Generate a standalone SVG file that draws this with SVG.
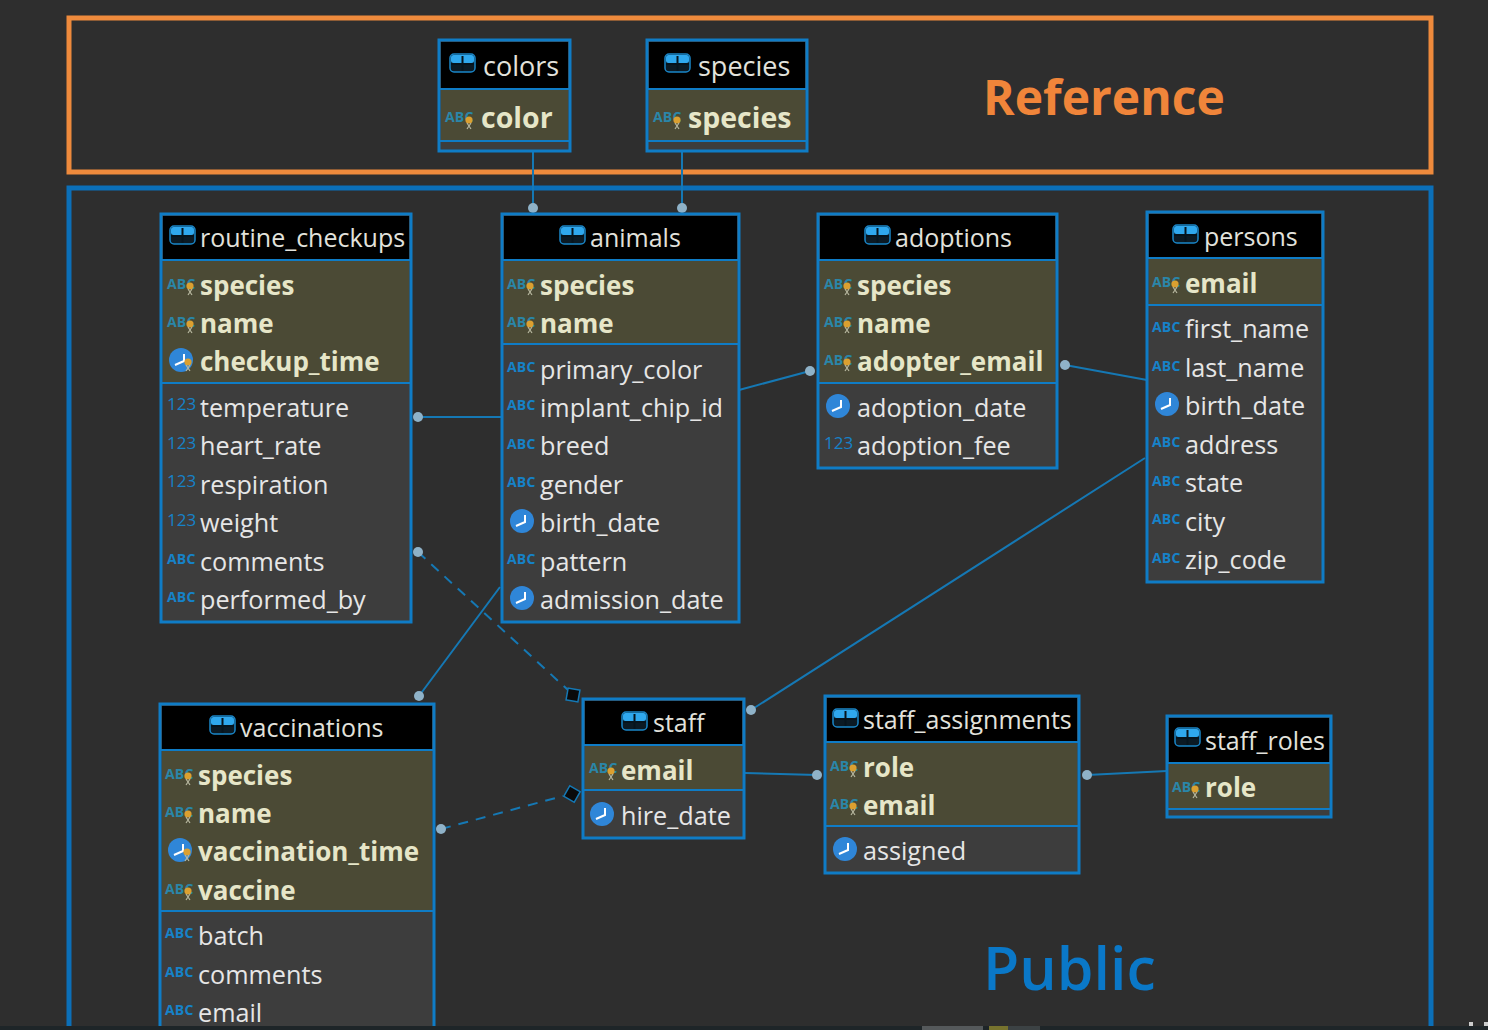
<svg xmlns="http://www.w3.org/2000/svg" width="1488" height="1030" viewBox="0 0 1488 1030">
<style>
text{font-family:"Open Sans","Noto Sans","Liberation Sans",sans-serif}
.f{fill:none;stroke-width:5}
.box{fill:#3d3d3d;stroke:#0f7cc6;stroke-width:3}
.hd{fill:#000}
.pk{fill:#4b4a35}
.ln{stroke:#0f7cc6;stroke-width:2;fill:none}
.t{fill:#e6e6e6;font-size:25.2px}
.c{fill:#e2e2dc;font-size:25px}
.b{fill:#e6e6c8;font-size:26px;font-weight:700;transform:translateY(1px)}
#colors .c,#species .c{font-size:27px}
#colors .b,#species .b{font-size:28.5px}
.ty{fill:#1682c8;font-size:14px;font-weight:700;letter-spacing:.2px}
.k{fill:#2a86a8}
.n{fill:#1682c8;font-size:17px}
.con{stroke:#1578b4;stroke-width:2;fill:none}
.d{stroke-dasharray:10 8}
.dot{fill:#8fb2c8}
.dm{fill:#0a0a0a;stroke:#1578b4;stroke-width:1.5}
</style>
<defs>
<g id="tb"><rect x="0" y="0" width="25" height="18" rx="4" fill="#0b1a24" stroke="#1a86c8" stroke-width="1.5"/><rect x="1" y="1" width="23" height="8" rx="2.5" fill="#2fa8ee"/><path d="M12.5 2v15M1 10h23" stroke="#06141d" stroke-width="2"/></g>
<g id="key"><circle cx="0" cy="0" r="3.6" fill="#dba030"/><path d="M-2 3l4 6M2 3l-4 6" stroke="#b8b8a0" stroke-width="1.2"/></g>
<g id="clk"><circle cx="0" cy="0" r="12" fill="#2f86d8"/><path d="M3 -6L3 1L-6 5" stroke="#fff" stroke-width="2" fill="none"/></g>
<g id="clkk"><use href="#clk"/><use href="#key" x="7" y="2"/></g>
</defs>
<rect width="1488" height="1030" fill="#2e2e2e"/>
<g id="frames">
<rect class="f" x="69" y="18" width="1362" height="154" stroke="#ee8a3c"/>
<rect class="f" x="69" y="188" width="1362" height="850" stroke="#0b6fb8"/>
<text x="983" y="115" font-size="48" font-weight="700" fill="#f0853a">Reference</text>
<text x="983" y="990" font-size="59" font-weight="600" fill="#0a78c8">Public</text>
</g>
<g id="connectors">
<path class="con" d="M533 152V208M682 152V208M418 417H502M739 390L810 371M1065 365L1147 380M751 710L1145 458M419 696L500 587M745 773L817 775M1087 775L1167 771"/>
<path class="con d" d="M418 552L568 690M441 829L563 796"/>
<circle class="dot" cx="533" cy="208" r="5"/><circle class="dot" cx="682" cy="208" r="5"/>
<circle class="dot" cx="418" cy="417" r="5"/><circle class="dot" cx="810" cy="371" r="5"/>
<circle class="dot" cx="1065" cy="365" r="5"/><circle class="dot" cx="751" cy="710" r="5"/>
<circle class="dot" cx="419" cy="696" r="5"/><circle class="dot" cx="418" cy="552" r="5"/>
<circle class="dot" cx="441" cy="829" r="5"/><circle class="dot" cx="817" cy="775" r="5"/>
<circle class="dot" cx="1087" cy="775" r="5"/>
<rect class="dm" x="567" y="689" width="12" height="12" transform="rotate(10 573 695)"/>
<rect class="dm" x="566" y="788" width="12" height="12" transform="rotate(30 572 794)"/>
</g>
<g id="colors">
<rect class="box" x="439" y="40" width="131" height="111"/><rect class="hd" x="441" y="42" width="127" height="46"/><rect class="pk" x="441" y="90" width="127" height="50"/>
<path class="ln" d="M440 89H569M440 141H569"/>
<use href="#tb" x="450" y="54"/><text class="c" x="483" y="76">colors</text>
<text class="ty k" x="445" y="122">ABC</text><use href="#key" x="469" y="120"/><text class="b" x="481" y="127">color</text>
</g>
<g id="species">
<rect class="box" x="647" y="40" width="160" height="111"/><rect class="hd" x="649" y="42" width="156" height="46"/><rect class="pk" x="649" y="90" width="156" height="50"/>
<path class="ln" d="M648 89H806M648 141H806"/>
<use href="#tb" x="665" y="54"/><text class="c" x="698" y="76">species</text>
<text class="ty k" x="653" y="122">ABC</text><use href="#key" x="677" y="120"/><text class="b" x="688" y="127">species</text>
</g>
<g id="routine_checkups">
<rect class="box" x="161" y="214" width="250" height="408"/><rect class="hd" x="163" y="216" width="246" height="43"/><rect class="pk" x="163" y="261" width="246" height="121"/>
<path class="ln" d="M162 260H410M162 383H410"/>
<use href="#tb" x="170" y="226"/><text class="c" x="200" y="247">routine_checkups</text>
<text class="ty k" x="167" y="289">ABC</text><use href="#key" x="190" y="286"/><text class="b" x="200" y="294">species</text>
<text class="ty k" x="167" y="327">ABC</text><use href="#key" x="190" y="324"/><text class="b" x="200" y="332">name</text>
<use href="#clkk" x="181" y="360"/><text class="b" x="200" y="370">checkup_time</text>
<text class="n" x="167" y="410">123</text><text class="t" x="200" y="417">temperature</text>
<text class="n" x="167" y="449">123</text><text class="t" x="200" y="455">heart_rate</text>
<text class="n" x="167" y="487">123</text><text class="t" x="200" y="494">respiration</text>
<text class="n" x="167" y="526">123</text><text class="t" x="200" y="532">weight</text>
<text class="ty" x="167" y="564">ABC</text><text class="t" x="200" y="571">comments</text>
<text class="ty" x="167" y="602">ABC</text><text class="t" x="200" y="609">performed_by</text>
</g>
<g id="animals">
<rect class="box" x="502" y="214" width="237" height="408"/><rect class="hd" x="504" y="216" width="233" height="43"/><rect class="pk" x="504" y="261" width="233" height="82"/>
<path class="ln" d="M503 260H738M503 344H738"/>
<use href="#tb" x="560" y="226"/><text class="c" x="590" y="247">animals</text>
<text class="ty k" x="507" y="289">ABC</text><use href="#key" x="530" y="286"/><text class="b" x="540" y="294">species</text>
<text class="ty k" x="507" y="327">ABC</text><use href="#key" x="530" y="324"/><text class="b" x="540" y="332">name</text>
<text class="ty" x="507" y="372">ABC</text><text class="t" x="540" y="379">primary_color</text>
<text class="ty" x="507" y="410">ABC</text><text class="t" x="540" y="417">implant_chip_id</text>
<text class="ty" x="507" y="449">ABC</text><text class="t" x="540" y="455">breed</text>
<text class="ty" x="507" y="487">ABC</text><text class="t" x="540" y="494">gender</text>
<use href="#clk" x="522" y="521"/><text class="t" x="540" y="532">birth_date</text>
<text class="ty" x="507" y="564">ABC</text><text class="t" x="540" y="571">pattern</text>
<use href="#clk" x="522" y="598"/><text class="t" x="540" y="609">admission_date</text>
</g>
<g id="adoptions">
<rect class="box" x="818" y="214" width="239" height="254"/><rect class="hd" x="820" y="216" width="235" height="43"/><rect class="pk" x="820" y="261" width="235" height="121"/>
<path class="ln" d="M819 260H1056M819 383H1056"/>
<use href="#tb" x="865" y="226"/><text class="c" x="895" y="247">adoptions</text>
<text class="ty k" x="824" y="289">ABC</text><use href="#key" x="847" y="286"/><text class="b" x="857" y="294">species</text>
<text class="ty k" x="824" y="327">ABC</text><use href="#key" x="847" y="324"/><text class="b" x="857" y="332">name</text>
<text class="ty k" x="824" y="365">ABC</text><use href="#key" x="847" y="362"/><text class="b" x="857" y="370">adopter_email</text>
<use href="#clk" x="838" y="406"/><text class="t" x="857" y="417">adoption_date</text>
<text class="n" x="824" y="449">123</text><text class="t" x="857" y="455">adoption_fee</text>
</g>
<g id="persons">
<rect class="box" x="1147" y="212" width="176" height="370"/><rect class="hd" x="1149" y="214" width="172" height="43"/><rect class="pk" x="1149" y="259" width="172" height="45"/>
<path class="ln" d="M1148 258H1322M1148 305H1322"/>
<use href="#tb" x="1173" y="225"/><text class="c" x="1204" y="246">persons</text>
<text class="ty k" x="1152" y="287">ABC</text><use href="#key" x="1175" y="284"/><text class="b" x="1185" y="292">email</text>
<text class="ty" x="1152" y="332">ABC</text><text class="t" x="1185" y="338">first_name</text>
<text class="ty" x="1152" y="371">ABC</text><text class="t" x="1185" y="377">last_name</text>
<use href="#clk" x="1167" y="404"/><text class="t" x="1185" y="415">birth_date</text>
<text class="ty" x="1152" y="447">ABC</text><text class="t" x="1185" y="454">address</text>
<text class="ty" x="1152" y="486">ABC</text><text class="t" x="1185" y="492">state</text>
<text class="ty" x="1152" y="524">ABC</text><text class="t" x="1185" y="531">city</text>
<text class="ty" x="1152" y="563">ABC</text><text class="t" x="1185" y="569">zip_code</text>
</g>
<g id="vaccinations">
<rect class="box" x="160" y="704" width="274" height="340"/><rect class="hd" x="162" y="706" width="270" height="43"/><rect class="pk" x="162" y="751" width="270" height="159"/>
<path class="ln" d="M161 750H433M161 911H433"/>
<use href="#tb" x="210" y="716"/><text class="c" x="240" y="737">vaccinations</text>
<text class="ty k" x="165" y="779">ABC</text><use href="#key" x="188" y="776"/><text class="b" x="198" y="784">species</text>
<text class="ty k" x="165" y="817">ABC</text><use href="#key" x="188" y="814"/><text class="b" x="198" y="822">name</text>
<use href="#clkk" x="180" y="850"/><text class="b" x="198" y="860">vaccination_time</text>
<text class="ty k" x="165" y="894">ABC</text><use href="#key" x="188" y="891"/><text class="b" x="198" y="899">vaccine</text>
<text class="ty" x="165" y="938">ABC</text><text class="t" x="198" y="945">batch</text>
<text class="ty" x="165" y="977">ABC</text><text class="t" x="198" y="984">comments</text>
<text class="ty" x="165" y="1015">ABC</text><text class="t" x="198" y="1022">email</text>
</g>
<g id="staff">
<rect class="box" x="583" y="699" width="161" height="139"/><rect class="hd" x="585" y="701" width="157" height="43"/><rect class="pk" x="585" y="746" width="157" height="43"/>
<path class="ln" d="M584 745H743M584 790H743"/>
<use href="#tb" x="622" y="712"/><text class="c" x="653" y="732">staff</text>
<text class="ty k" x="589" y="773">ABC</text><use href="#key" x="611" y="771"/><text class="b" x="621" y="779">email</text>
<use href="#clk" x="602" y="814"/><text class="t" x="621" y="825">hire_date</text>
</g>
<g id="staff_assignments">
<rect class="box" x="825" y="696" width="254" height="177"/><rect class="hd" x="827" y="698" width="250" height="43"/><rect class="pk" x="827" y="743" width="250" height="82"/>
<path class="ln" d="M826 742H1078M826 826H1078"/>
<use href="#tb" x="833" y="709"/><text class="c" x="863" y="729">staff_assignments</text>
<text class="ty k" x="830" y="771">ABC</text><use href="#key" x="853" y="768"/><text class="b" x="863" y="776">role</text>
<text class="ty k" x="830" y="809">ABC</text><use href="#key" x="853" y="806"/><text class="b" x="863" y="814">email</text>
<use href="#clk" x="845" y="849"/><text class="t" x="863" y="860">assigned</text>
</g>
<g id="staff_roles">
<rect class="box" x="1167" y="716" width="164" height="101"/><rect class="hd" x="1169" y="718" width="160" height="44"/><rect class="pk" x="1169" y="764" width="160" height="44"/>
<path class="ln" d="M1168 763H1330M1168 809H1330"/>
<use href="#tb" x="1175" y="728"/><text class="c" x="1205" y="750">staff_roles</text>
<text class="ty k" x="1172" y="792">ABC</text><use href="#key" x="1195" y="789"/><text class="b" x="1205" y="796">role</text>
</g>
<g id="strip">
<rect x="0" y="1026" width="1488" height="4" fill="#1e2528"/>
<rect x="922" y="1026" width="61" height="4" fill="#55595b"/><rect x="989" y="1026" width="19" height="4" fill="#77732e"/><rect x="1008" y="1026" width="32" height="4" fill="#3c4244"/>
<rect x="1469" y="1022" width="4" height="4" fill="#ccc"/><rect x="1484" y="1022" width="4" height="4" fill="#ccc"/>
</g>
</svg>
